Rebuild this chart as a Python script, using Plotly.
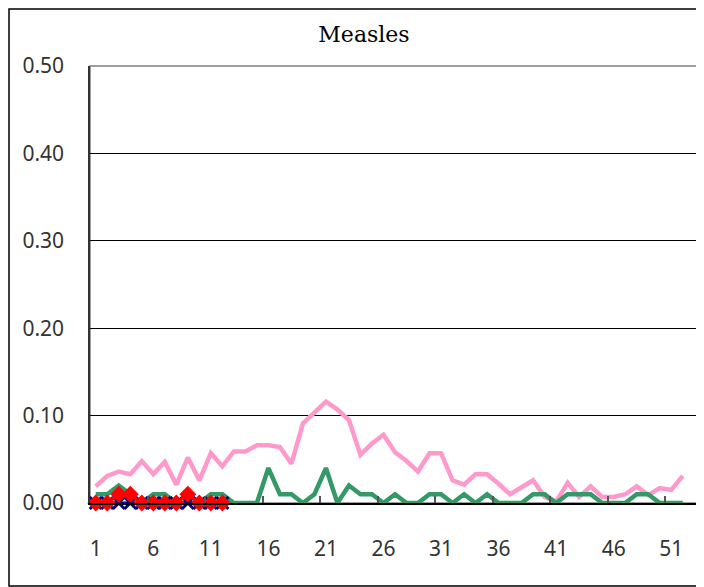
import plotly.graph_objects as go

weeks = list(range(1, 53))
pink_vals = [0.019, 0.031, 0.036, 0.033, 0.048, 0.033, 0.047, 0.021, 0.052, 0.026,
             0.057, 0.042, 0.059, 0.059, 0.066, 0.066, 0.064, 0.045, 0.091, 0.103,
             0.116, 0.107, 0.095, 0.055, 0.068, 0.078, 0.058, 0.048, 0.036, 0.057,
             0.057, 0.026, 0.021, 0.033, 0.033, 0.022, 0.010, 0.018, 0.026, 0.007,
             0.0015, 0.023, 0.007, 0.019, 0.007, 0.007, 0.010, 0.019, 0.009, 0.017,
             0.015, 0.031]
green_vals = [0.01, 0.01, 0.02, 0.01, 0.00, 0.01, 0.01, 0.00, 0.00, 0.00,
              0.01, 0.01, 0.00, 0.00, 0.00, 0.04, 0.01, 0.01, 0.00, 0.01,
              0.04, 0.00, 0.02, 0.01, 0.01, 0.00, 0.01, 0.00, 0.00, 0.01,
              0.01, 0.00, 0.01, 0.00, 0.01, 0.00, 0.00, 0.00, 0.01, 0.01,
              0.00, 0.01, 0.01, 0.01, 0.00, 0.00, 0.00, 0.01, 0.01, 0.00,
              0.00, 0.00]
weeks_cur = list(range(1, 13))
navy_vals = [0.0] * 12
red_vals = [0.0, 0.0, 0.01, 0.01, 0.0, 0.0, 0.0, 0.0, 0.01, 0.0, 0.0, 0.0]
x_ticks = [1, 6, 11, 16, 21, 26, 31, 36, 41, 46, 51]
y_ticks = [0.0, 0.1, 0.2, 0.3, 0.4, 0.5]
boundary_ticks = [5.5, 10.5, 15.5, 20.5, 25.5, 30.5, 35.5, 40.5, 45.5, 50.5]

W, H = 696, 579
L, R, T, B = 82, 4, 58, 84
PW, PH = W - L - R, H - T - B

fig = go.Figure()
fig.add_trace(go.Scatter(x=weeks, y=pink_vals, mode="lines",
                         line=dict(color="#FF99CC", width=4.5), cliponaxis=False))
fig.add_trace(go.Scatter(x=weeks, y=green_vals, mode="lines",
                         line=dict(color="#339966", width=4.5), cliponaxis=False))
fig.add_trace(go.Scatter(x=weeks_cur, y=navy_vals, mode="lines+markers",
                         line=dict(color="#000080", width=3),
                         marker=dict(symbol="x-thin", size=12,
                                     line=dict(color="#000080", width=3)),
                         cliponaxis=False))
fig.add_trace(go.Scatter(x=weeks_cur, y=red_vals, mode="lines+markers",
                         line=dict(color="#FF0000", width=3),
                         marker=dict(symbol="diamond", size=13, color="#FF0000"),
                         cliponaxis=False))
fig.add_trace(go.Scatter(x=[0.5, 53.5], y=[0, 0], xaxis="x2", mode="markers",
                         marker=dict(opacity=0), hoverinfo="skip"))

fig.update_layout(
    width=W, height=H,
    margin=dict(l=L, r=R, t=T, b=B, autoexpand=False),
    paper_bgcolor="white", plot_bgcolor="white",
    showlegend=False,
    title=dict(text="Measles", x=356 / W, xanchor="center", y=1 - 26 / H, yanchor="middle",
               font=dict(family="DejaVu Serif", size=22, color="black")),
    font=dict(family="Noto Sans", size=21, color="#333333"),
    xaxis=dict(range=[0.5, 53.5], tickvals=x_ticks, ticktext=[str(v) for v in x_ticks],
               showgrid=False, zeroline=False, showline=True, linecolor="black",
               linewidth=1.5, ticks="", ticklabelstandoff=26,
               tickfont=dict(family="Noto Sans", size=21, color="#333333")),
    xaxis2=dict(range=[0.5, 53.5], overlaying="x", tickvals=boundary_ticks,
                ticks="inside", ticklen=7, tickcolor="#555555", tickwidth=1.5,
                showticklabels=False, showgrid=False, zeroline=False, showline=False,
                side="bottom"),
    yaxis=dict(range=[0, 0.5], tickvals=y_ticks, tickformat=".2f",
               showgrid=True, gridcolor="black", gridwidth=1, zeroline=False,
               showline=True, linecolor="#333333", linewidth=1.5, ticks="",
               ticklabelstandoff=20,
               tickfont=dict(family="Noto Sans", size=21, color="#333333")),
    shapes=[
        dict(type="rect", xref="paper", yref="paper", x0=0, x1=1, y0=0, y1=1,
             line=dict(color="#808080", width=1.5), layer="below"),
        dict(type="rect", xref="paper", yref="paper",
             x0=(1 - L) / PW, x1=(W + 6 - L) / PW,
             y0=-(H - 1 - (H - B)) / PH, y1=((H - B) - 1) / PH,
             line=dict(color="black", width=1.5)),
    ],
)

fig.write_html("out.html")
